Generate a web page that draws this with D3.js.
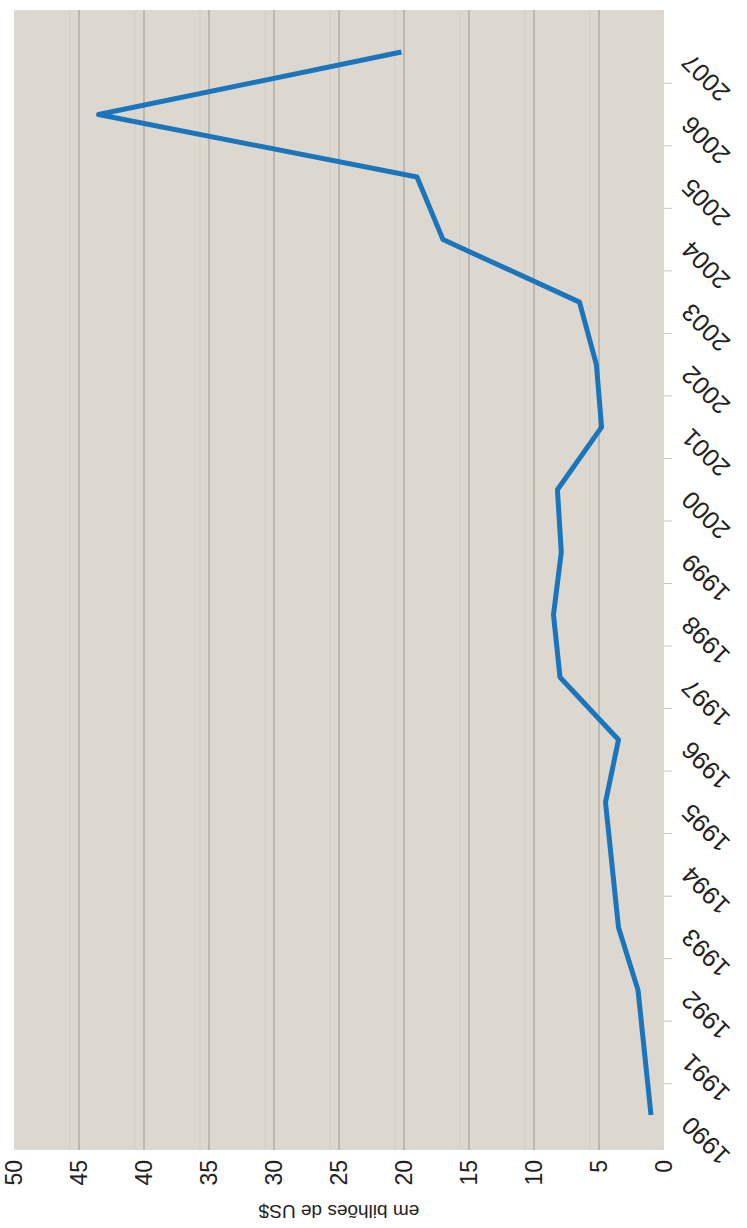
<!DOCTYPE html>
<html>
<head>
<meta charset="utf-8">
<script src="https://cdn.jsdelivr.net/npm/d3@7"></script>
<style>
  html, body { margin: 0; padding: 0; background: #fff; }
  svg { display: block; }
  text { font-family: "Liberation Sans", Arial, Helvetica, sans-serif; fill: #222; }
</style>
</head>
<body>
<svg id="chart" width="747" height="1228"></svg>
<script>
// Investimento anual, em bilhões de US$
const years = ["1990", "1991", "1992", "1993", "1994", "1995", "1996", "1997", "1998",
               "1999", "2000", "2001", "2002", "2003", "2004", "2005", "2006", "2007"];
const values = [1.0, 1.5, 2.0, 3.5, 4.0, 4.5, 3.5, 8.0, 8.5,
                7.9, 8.2, 4.8, 5.2, 6.5, 17.0, 19.0, 43.5, 20.2];
const valueTicks = [0, 5, 10, 15, 20, 25, 30, 35, 40, 45, 50];
const axisTitle = "em bilhões de US$";

const svg = d3.select("#chart");

// The chart is laid out in landscape (1228 x 747) and turned a quarter turn anticlockwise.
const W = 1228;
const g = svg.append("g").attr("transform", `translate(0,${W}) rotate(-90)`);

const plot = { left: 78, right: 1218, top: 14, bottom: 664 };

const x = d3.scalePoint().domain(years).range([113, 1176]);
const y = d3.scaleLinear().domain([0, 50]).range([plot.bottom, plot.top]);

// plot background
g.append("rect")
  .attr("x", plot.left).attr("y", plot.top)
  .attr("width", plot.right - plot.left).attr("height", plot.bottom - plot.top)
  .attr("fill", "#dcd8d0");

const gridVals = valueTicks.filter(v => v > 0 && v < 50);

// soft echo line above each gridline
g.append("g").selectAll("line").data(gridVals).join("line")
  .attr("x1", plot.left).attr("x2", plot.right)
  .attr("y1", d => y(d) - 9).attr("y2", d => y(d) - 9)
  .attr("stroke", "#d1ccc4").attr("stroke-width", 1);

// gridlines
g.append("g").selectAll("line").data(gridVals).join("line")
  .attr("x1", plot.left).attr("x2", plot.right)
  .attr("y1", d => y(d)).attr("y2", d => y(d))
  .attr("stroke", "#b2aca4").attr("stroke-width", 1.5);

// category tick marks between years
const step = x.step();
const bounds = years.slice(1).map(d => x(d) - step / 2);
g.append("g").selectAll("line").data(bounds).join("line")
  .attr("x1", d => d).attr("x2", d => d)
  .attr("y1", plot.bottom).attr("y2", plot.bottom + 8)
  .attr("stroke", "#c4c4c4").attr("stroke-width", 1);

// year labels, slanted
g.append("g").selectAll("text").data(years).join("text")
  .attr("transform", d => `translate(${x(d) - 6},${plot.bottom + 22}) rotate(-45)`)
  .attr("text-anchor", "end")
  .attr("dy", "0.35em")
  .style("font-size", "25px")
  .text(d => d);

// value labels
g.append("g").selectAll("text").data(valueTicks).join("text")
  .attr("x", plot.left - 10)
  .attr("y", d => y(d))
  .attr("dy", "0.35em")
  .attr("text-anchor", "end")
  .style("font-size", "23px")
  .text(d => d);

// value axis title
g.append("text")
  .attr("transform", `translate(16,${(y(0) + y(50)) / 2}) rotate(-90)`)
  .attr("text-anchor", "middle")
  .attr("dy", "0.35em")
  .style("font-size", "19px")
  .text(axisTitle);

// series line
const line = d3.line()
  .x((d, i) => x(years[i]))
  .y(d => y(d));

g.append("path")
  .datum(values)
  .attr("d", line)
  .attr("fill", "none")
  .attr("stroke", "#1b75bb")
  .attr("stroke-width", 5)
  .attr("stroke-linejoin", "round")
  .attr("stroke-linecap", "butt");
</script>
</body>
</html>
